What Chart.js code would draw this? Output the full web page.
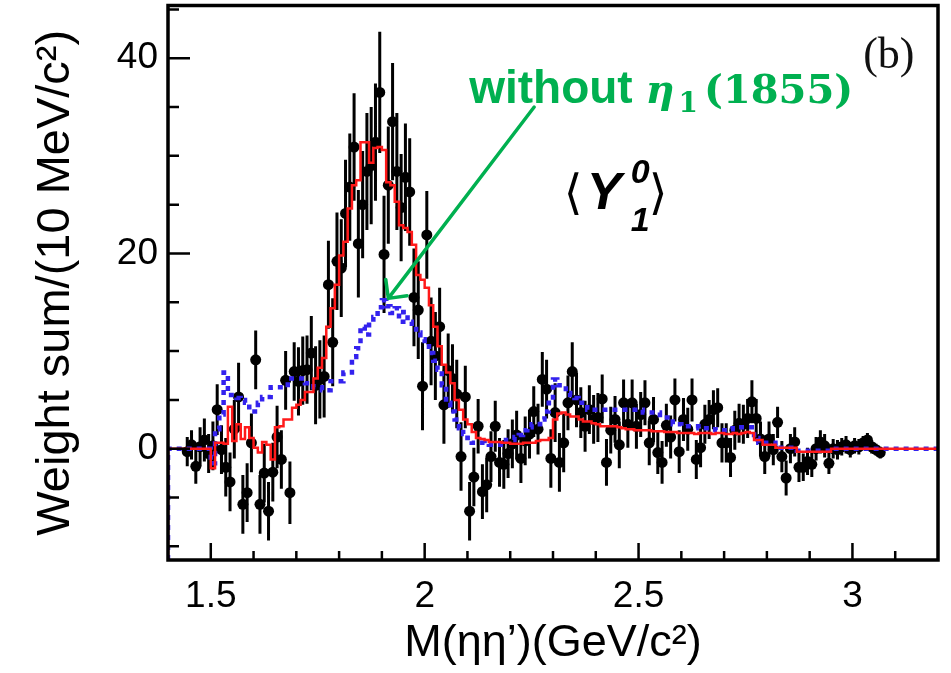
<!DOCTYPE html>
<html>
<head>
<meta charset="utf-8">
<script src="https://cdn.jsdelivr.net/npm/chart.js@4.4.1/dist/chart.umd.min.js"></script>
<style>
  html, body { margin: 0; padding: 0; background: #fff; }
  canvas { display: block; }
</style>
</head>
<body>
<canvas id="chart" width="951" height="673"></canvas>
<script>
// axis ranges and labelled ticks
const xRange = [1.4, 3.2];
const yRange = [-11.4, 45.4];
const xTickValues = [1.5, 2, 2.5, 3];
const yTickValues = [0, 20, 40];

const binWidth = 0.01;     // 10 MeV bins
const firstCenter = 1.445; // centre of the first data bin
const histStart = 1.40;    // left edge of the fit histograms

// weighted <Y10> moment per bin, 1.445 .. 3.065 GeV
const weightSum = [
  -0.3, 0.4, -1.8, 0.2, 0.9, -0.5,
  0.3, 4.0, -0.1, -1.9, -3.4, 2.0, 5.3, -5.7, -4.5, 0.6,
  9.1, -5.7, -2.5, -6.4, -2.4, 1.2, -1.1, 7.0, -4.5, 7.9,
  6.9, 8.0, 8.1, 9.8, 6.5, 7.1, 7.4, 16.8, 10.9, 19.2,
  18.5, 24.1, 26.8, 30.9, 21.0, 25.0, 28.4, 29.0, 31.4, 36.5,
  19.9, 27.0, 33.5, 28.4, 24.7, 27.8, 26.3, 15.5, 14.2, 6.4,
  21.9, 11.0, 9.5, 12.5, 4.5, 8.0, 7.2, 5.6, -0.8, 5.3,
  -6.4, -2.9, 2.3, -4.4, -3.7, -0.8, 2.3, -1.4, -1.6, -0.5,
  0.5, 1.4, -1.0, 0.8, 1.5, 3.8, 2.0, 7.1, 6.1, -1.0,
  3.7, -1.4, 0.6, 4.7, 7.9, 5.0, 3.7, 2.3, 4.0, 3.0,
  3.2, 5.1, -1.4, 1.9, 3.0, 0.4, 4.7, 2.5, 4.7, 2.3,
  3.5, 4.7, 0.6, 3.0, -0.4, -1.4, 2.4, 1.2, 5.0, -0.3,
  3.0, 2.0, 5.0, -1.1, 0.1, 2.5, 3.0, 4.0, 4.2, 0.6,
  0.6, -0.9, 1.9, 2.6, 2.5, 3.1, 4.8, 3.1, 1.0, -0.8,
  1.0, -0.1, 2.7, -0.8, -3.0, 0.0, 0.7, -1.9, -1.9, -1.3,
  -1.6, 0.0, 0.7, 0.3, -1.5, 0.0, -0.1, 0.2, 0.4, -0.1,
  0.3, 0.2, 0.6, 0.9, 0.2, -0.1, -0.4
];

// statistical error per bin (half length of the bar)
const weightErr = [
  1.5, 1.5, 1.8, 2.0, 2.2, 2.0,
  2.5, 2.6, 2.5, 3.0, 3.0, 3.0, 3.5, 3.0, 3.0, 3.0,
  3.0, 3.0, 3.0, 3.0, 3.0, 3.2, 3.0, 3.0, 3.2, 3.0,
  3.5, 3.5, 3.5, 3.8, 4.0, 4.0, 4.2, 4.5, 4.5, 5.0,
  5.0, 5.5, 5.5, 5.5, 5.5, 5.5, 6.0, 6.0, 6.0, 6.2,
  6.0, 6.0, 6.0, 6.0, 5.5, 5.5, 5.5, 5.0, 5.0, 4.5,
  4.5, 4.5, 4.5, 4.0, 4.0, 3.8, 3.5, 3.5, 3.5, 3.2,
  3.0, 3.0, 2.8, 2.8, 2.8, 2.6, 2.6, 2.5, 2.5, 2.5,
  2.5, 2.5, 2.5, 2.5, 2.5, 2.6, 2.6, 2.8, 3.0, 3.0,
  3.0, 3.0, 3.0, 2.8, 3.0, 2.8, 2.6, 2.6, 2.5, 2.5,
  2.5, 2.5, 2.4, 2.4, 2.4, 2.4, 2.4, 2.4, 2.4, 2.3,
  2.3, 2.3, 2.3, 2.3, 2.2, 2.2, 2.2, 2.2, 2.2, 2.2,
  2.2, 2.2, 2.2, 2.0, 2.0, 2.0, 2.0, 2.0, 2.0, 2.0,
  2.0, 2.0, 2.0, 2.0, 2.0, 2.0, 2.2, 2.0, 1.8, 1.8,
  1.8, 1.6, 1.6, 1.6, 1.8, 1.5, 1.5, 1.5, 1.4, 1.4,
  1.3, 1.2, 1.2, 1.2, 1.1, 1.0, 1.0, 0.9, 0.9, 0.8,
  0.8, 0.8, 0.7, 0.7, 0.7, 0.6, 0.6
];

// full fit projection, bins from 1.40 to 3.20
const fitTotal = [
  0, 0, 0, 0, 0, 0, 0, 0, 0, 0,
  -2.0, 0.6, 0.6, 0.5, 4.3, 0.8, 2.5, 1.0, 2.2, 1.1,
  0.1, -0.4, 0.7, 0.4, -1.1, 2.2, 2.3, 3.0, 3.0, 4.2,
  4.5, 5.0, 5.8, 5.8, 7.2, 8.3, 9.3, 12.5, 14.4, 16.8,
  19.8, 21.2, 24.6, 27.0, 27.5, 31.4, 31.4, 29.3, 30.8, 30.9,
  30.6, 27.3, 27.0, 25.3, 22.9, 22.6, 22.2, 20.9, 17.8, 17.3,
  16.5, 14.7, 12.5, 10.5, 8.6, 7.8, 6.7, 5.0, 4.0, 3.0,
  2.5, 1.7, 1.1, 1.0, 0.9, 0.7, 0.7, 0.7, 0.6, 0.6,
  0.5, 0.5, 0.5, 0.6, 0.6, 0.6, 0.8, 0.9, 0.9, 1.1,
  3.0, 3.6, 3.7, 3.5, 3.3, 3.3, 3.0, 2.8, 2.8, 2.6,
  2.5, 2.3, 2.3, 2.3, 2.3, 2.2, 2.1, 2.0, 2.0, 1.9,
  1.9, 1.9, 1.9, 1.8, 1.8, 1.8, 1.7, 1.7, 1.7, 1.6,
  1.6, 1.6, 1.6, 1.5, 1.6, 1.6, 1.6, 1.5, 1.6, 1.6,
  1.5, 1.5, 1.6, 1.5, 1.6, 1.7, 1.6, 0.9, 0.9, 0.4,
  0.4, 0.4, 0.1, 0.1, 0.1, 0.1, 0.1, -0.3, -0.3, -0.3,
  -0.3, -0.3, -0.3, -0.3, -0.3, 0, 0, 0, 0, 0,
  0, 0, 0, 0, 0, 0, 0, 0, 0, 0,
  0, 0, 0, 0, 0, 0, 0, 0, 0, 0
];

// fit projection with the eta1(1855) removed
const fitNoEta1 = [
  0, 0, 0, 0, 0, 0, 0, 0, 0, 0,
  -1.5, 2.0, 3.5, 7.8, 5.5, 5.5, 5.2, 5.0, 4.7, 3.8,
  3.8, 4.7, 5.3, 5.3, 6.3, 6.3, 6.3, 6.3, 7.2, 7.2,
  7.2, 7.2, 6.7, 6.7, 6.3, 6.3, 6.0, 6.0, 6.9, 6.9,
  6.9, 7.8, 7.8, 9.4, 10.3, 12.5, 11.7, 13.0, 13.5, 14.5,
  15.2, 14.6, 13.9, 14.4, 13.0, 14.0, 13.0, 12.5, 11.9, 11.2,
  10.8, 9.8, 9.0, 8.1, 6.5, 4.7, 3.8, 3.0, 2.1, 1.5,
  1.1, 0.6, 0.6, 0.6, 0.5, 0.4, 0.4, 0.4, 0.4, 0.9,
  0.9, 1.2, 1.4, 1.9, 2.2, 2.5, 2.5, 3.0, 3.8, 4.7,
  7.1, 6.5, 6.5, 5.7, 5.5, 5.2, 4.7, 4.7, 4.0, 4.0,
  4.0, 4.0, 4.0, 4.0, 4.0, 4.0, 4.0, 4.0, 4.0, 4.0,
  4.0, 3.7, 3.7, 3.7, 3.7, 3.2, 3.2, 3.2, 2.5, 2.5,
  2.3, 2.3, 2.3, 2.3, 2.1, 2.1, 2.1, 2.0, 1.9, 1.9,
  1.9, 2.0, 2.1, 2.2, 2.2, 2.2, 2.2, 1.1, 0.6, 0.6,
  0.6, 0.6, 0.1, 0.1, 0.1, 0.1, 0.1, -0.2, -0.2, -0.2,
  -0.2, -0.2, -0.2, -0.2, -0.2, 0, 0, 0, 0, 0,
  0, 0, 0, 0, 0, 0, 0, 0, 0, 0,
  0, 0, 0, 0, 0, 0, 0, 0, 0, 0
];

const round3 = v => Math.round(v * 1000) / 1000;

const dataPoints = weightSum.map((v, i) => ({ x: round3(firstCenter + i * binWidth), y: v }));

// step outline: starts from below the frame, one point per left bin edge
function histPoints(values) {
  const pts = [{ x: histStart, y: yRange[0] }];
  values.forEach((v, i) => pts.push({ x: round3(histStart + i * binWidth), y: v }));
  pts.push({ x: round3(histStart + values.length * binWidth), y: values[values.length - 1] });
  return pts;
}

const green = '#00b050';
const sans = "'Liberation Sans', Arial, Helvetica, sans-serif";

// annotation anchors in data coordinates
const arrowTail = { x: 2.256, y: 35.0 };
const arrowTip = { x: 1.915, y: 15.4 };
const labelPos = { x: 2.104, y: 35.4 };
const panelPos = { x: 3.025, y: 39.0 };
const momentPos = { x: 2.325, y: 24.6 };

const errorBars = {
  id: 'errorBars',
  beforeDatasetsDraw(chart) {
    const { ctx } = chart;
    const yScale = chart.scales.y;
    const meta = chart.getDatasetMeta(2);
    ctx.save();
    ctx.strokeStyle = '#000';
    ctx.lineWidth = 3;
    ctx.beginPath();
    meta.data.forEach((pt, i) => {
      ctx.moveTo(pt.x, yScale.getPixelForValue(weightSum[i] - weightErr[i]));
      ctx.lineTo(pt.x, yScale.getPixelForValue(weightSum[i] + weightErr[i]));
    });
    ctx.stroke();
    ctx.restore();
  }
};

// ROOT-style frame with inward ticks
const frameTicks = {
  id: 'frameTicks',
  afterDatasetsDraw(chart) {
    const { ctx, chartArea: a } = chart;
    const { x, y } = chart.scales;
    ctx.save();
    ctx.strokeStyle = '#000';
    ctx.lineWidth = 2.5;
    ctx.beginPath();
    for (let i = 1; i < 18; i++) {
      const v = round3(xRange[0] + i * 0.1);
      const major = xTickValues.some(t => Math.abs(t - v) < 1e-6);
      const px = x.getPixelForValue(v);
      ctx.moveTo(px, a.bottom);
      ctx.lineTo(px, a.bottom - (major ? 17 : 9));
    }
    for (let v = -10; v < yRange[1]; v += 5) {
      const major = yTickValues.includes(v);
      const py = y.getPixelForValue(v);
      ctx.moveTo(a.left, py);
      ctx.lineTo(a.left + (major ? 22 : 11), py);
    }
    ctx.stroke();
    ctx.lineWidth = 3.5;
    ctx.strokeRect(a.left, a.top, a.right - a.left, a.bottom - a.top);
    ctx.restore();
  }
};

const notes = {
  id: 'notes',
  afterDraw(chart) {
    const { ctx } = chart;
    const { x, y } = chart.scales;
    const at = p => [x.getPixelForValue(p.x), y.getPixelForValue(p.y)];
    ctx.save();

    // arrow pointing at the reduced peak
    const [tx, ty] = at(arrowTail);
    const [hx, hy] = at(arrowTip);
    const ang = Math.atan2(ty - hy, tx - hx);
    ctx.strokeStyle = green;
    ctx.lineWidth = 3.5;
    ctx.lineCap = 'round';
    ctx.beginPath();
    ctx.moveTo(tx, ty);
    ctx.lineTo(hx, hy);
    for (const d of [-Math.PI / 4, Math.PI / 4]) {
      ctx.moveTo(hx, hy);
      ctx.lineTo(hx + 19 * Math.cos(ang + d), hy + 19 * Math.sin(ang + d));
    }
    ctx.stroke();

    // "without eta1(1855)"
    ctx.fillStyle = green;
    ctx.textBaseline = 'alphabetic';
    let [lx, ly] = at(labelPos);
    ctx.font = `700 46px ${sans}`;
    ctx.fillText('without', lx, ly);
    lx += ctx.measureText('without ').width;
    ctx.font = "italic 700 40px 'DejaVu Serif', serif";
    ctx.fillText('η', lx, ly);
    lx += ctx.measureText('η').width + 4;
    ctx.font = "700 28px 'DejaVu Serif', serif";
    ctx.fillText('1', lx, ly + 9);
    lx += ctx.measureText('1').width + 6;
    ctx.font = "700 40px 'DejaVu Serif', serif";
    ctx.fillText('(1855)', lx, ly);

    // panel tag
    ctx.fillStyle = '#111';
    const [bx, by] = at(panelPos);
    ctx.font = "400 44px 'Liberation Serif', 'Times New Roman', serif";
    ctx.fillText('(b)', bx, by);

    // <Y_1^0>
    const [mx, my] = at(momentPos);
    ctx.fillStyle = '#000';
    ctx.font = "400 48px 'DejaVu Sans', sans-serif";
    ctx.fillText('⟨', mx, my);
    ctx.font = `italic 700 52px ${sans}`;
    ctx.fillText('Y', mx + 23, my);
    ctx.font = `italic 700 34px ${sans}`;
    ctx.fillText('0', mx + 67, my - 26);
    ctx.fillText('1', mx + 67, my + 22);
    ctx.font = "400 48px 'DejaVu Sans', sans-serif";
    ctx.fillText('⟩', mx + 85, my);

    ctx.restore();
  }
};

Chart.defaults.font.family = sans;
Chart.defaults.color = '#000';

new Chart(document.getElementById('chart'), {
  type: 'line',
  data: {
    datasets: [
      {
        label: 'Fit',
        data: histPoints(fitTotal),
        stepped: true,
        borderColor: '#ff1a1a',
        borderWidth: 2.5,
        pointRadius: 0,
        fill: false,
        order: 1
      },
      {
        label: 'Without eta1(1855)',
        data: histPoints(fitNoEta1),
        stepped: true,
        borderColor: '#3322ee',
        borderWidth: 4.5,
        borderDash: [5, 5],
        pointRadius: 0,
        fill: false,
        order: 2
      },
      {
        label: 'Data',
        data: dataPoints,
        showLine: false,
        pointRadius: 5.5,
        pointBackgroundColor: '#000',
        pointBorderColor: '#000',
        pointBorderWidth: 0,
        order: 3
      }
    ]
  },
  options: {
    responsive: false,
    animation: false,
    events: [],
    layout: { padding: { top: 5, right: 13, left: 0, bottom: 0 } },
    plugins: {
      legend: { display: false },
      tooltip: { enabled: false }
    },
    scales: {
      x: {
        type: 'linear',
        min: xRange[0],
        max: xRange[1],
        afterBuildTicks: s => { s.ticks = xTickValues.map(v => ({ value: v })); },
        afterFit: s => { s.height = 113; s.paddingLeft = 0; s.paddingRight = 0; },
        grid: { display: false, drawTicks: false },
        border: { display: false },
        ticks: {
          font: { size: 37 },
          padding: 15,
          maxRotation: 0,
          autoSkip: false,
          callback: v => String(v)
        },
        title: {
          display: true,
          text: 'M(ηη’)(GeV/c²)',
          font: { size: 45 },
          padding: { top: 0, bottom: 2 }
        }
      },
      y: {
        type: 'linear',
        min: yRange[0],
        max: yRange[1],
        afterBuildTicks: s => { s.ticks = yTickValues.map(v => ({ value: v })); },
        afterFit: s => { s.width = 168; s.paddingTop = 0; s.paddingBottom = 0; },
        grid: { display: false, drawTicks: false },
        border: { display: false },
        ticks: {
          font: { size: 37 },
          padding: 10,
          callback: v => String(v)
        },
        title: {
          display: true,
          text: 'Weight sum/(10 MeV/c²)',
          font: { size: 47 },
          padding: { top: 28, bottom: 0 }
        }
      }
    }
  },
  plugins: [errorBars, frameTicks, notes]
});
</script>
</body>
</html>
